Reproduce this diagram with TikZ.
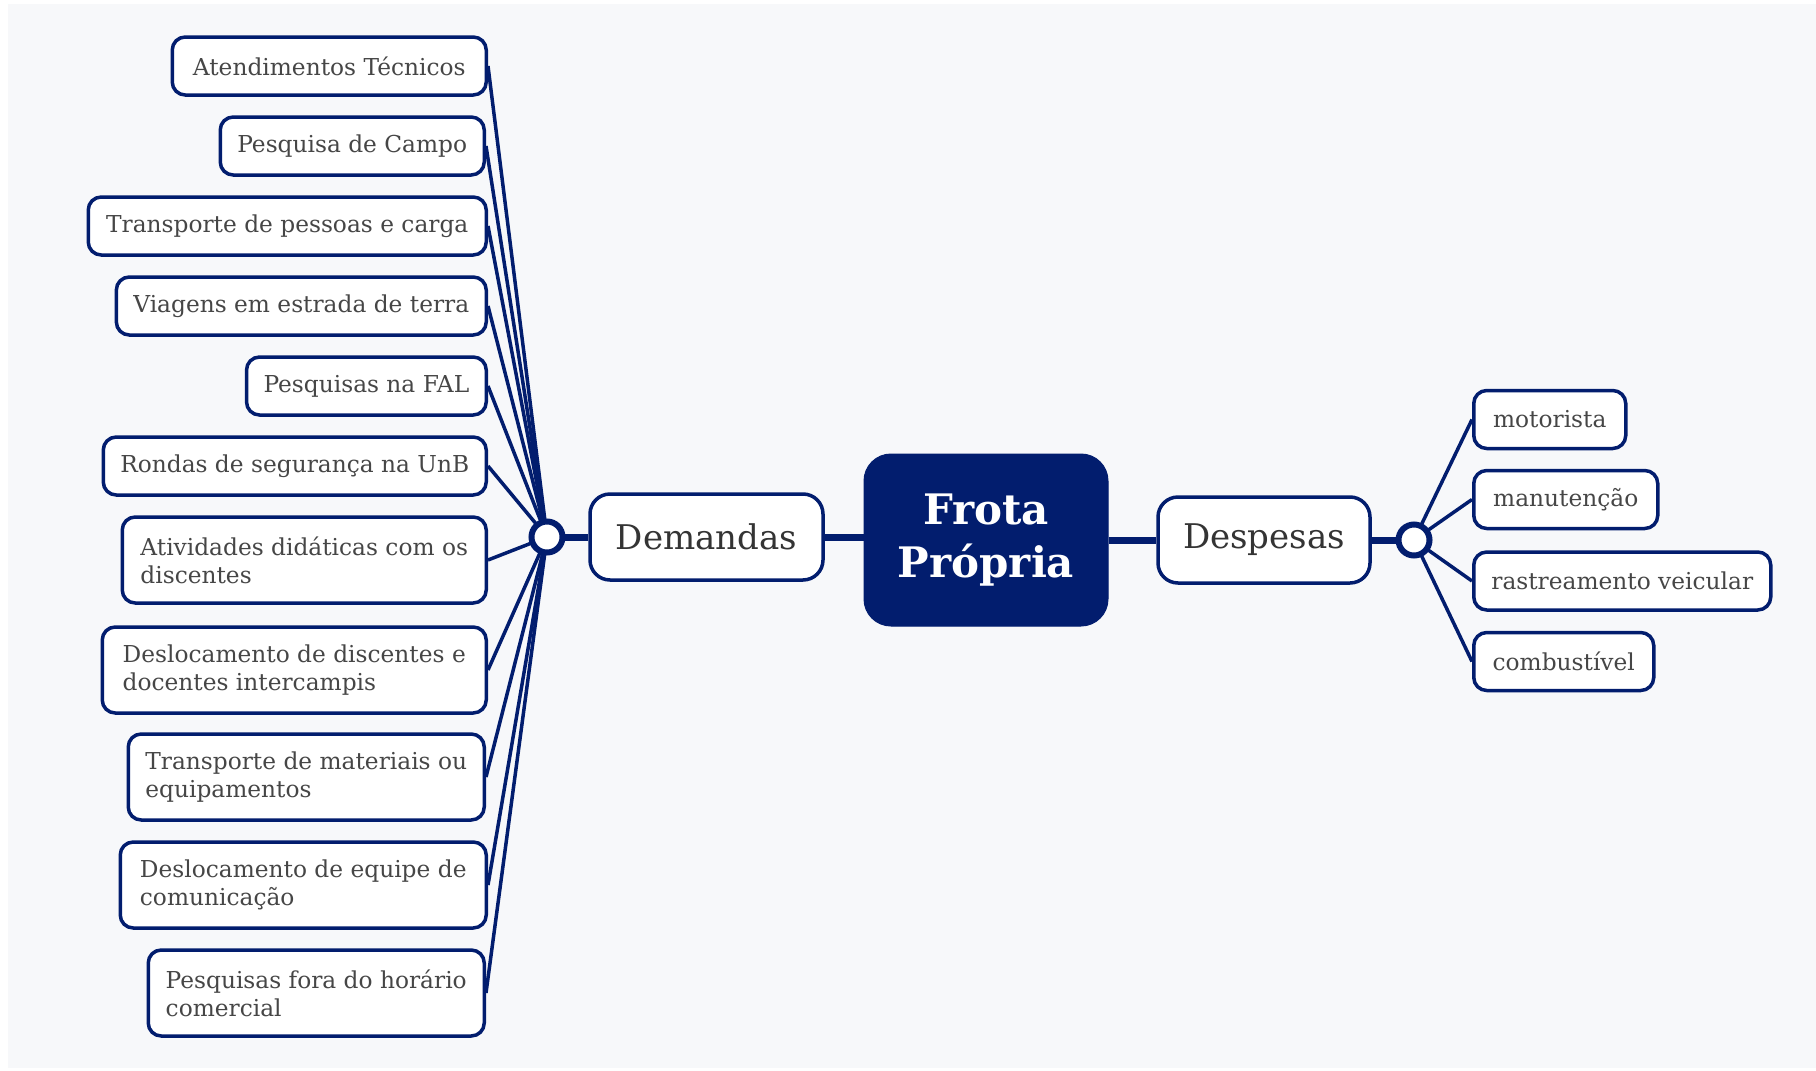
\documentclass[tikz,border=0pt]{standalone}
\usepackage{fontspec}
\setmainfont{DejaVu Serif}
\usetikzlibrary{shapes.geometric}
\definecolor{navy}{RGB}{2,29,110}
\definecolor{bggray}{RGB}{247,248,250}
\definecolor{leafgray}{RGB}{70,70,70}
\definecolor{maingray}{RGB}{52,52,52}
\pgfdeclarelayer{bg}
\pgfdeclarelayer{edges}
\pgfsetlayers{bg,edges,main}
\tikzset{
  leafbox/.style={draw=navy, line width=1.75pt, rounded corners=6.5pt, fill=white,
    text=leafgray, font=\fontsize{11.65}{14}\selectfont, inner xsep=8.5pt, inner ysep=0pt,
    align=left, minimum height=29pt},
  dblbox/.style={minimum height=43pt},
  branchbox/.style={draw=navy, line width=1.75pt, rounded corners=10pt, fill=white,
    text=maingray, font=\fontsize{17}{20}\selectfont, inner sep=0pt, minimum height=43pt},
  centerbox/.style={fill=navy, draw=navy, line width=0.5pt, rounded corners=13.5pt, text=white,
    font=\bfseries\fontsize{21}{26.5}\selectfont, align=center, inner sep=0pt,
    minimum width=122pt, minimum height=86pt},
  hub/.style={circle, draw=navy, line width=3pt, fill=white, inner sep=0pt,
    minimum size=15.5pt},
  thicklink/.style={draw=navy, line width=3.5pt},
  thinlink/.style={draw=navy, line width=1.75pt}
}
\begin{document}
\begin{tikzpicture}[x=0.5pt,y=-0.5pt]
\useasboundingbox (0,0) rectangle (1816,1071);
\begin{pgfonlayer}{bg}
\fill[white] (0,0) rectangle (1816,1071);
\fill[bggray] (8,3.5) rectangle (1816,1068);
\end{pgfonlayer}

\node[centerbox] (frota) at (986,540) {Frota\\Própria};
\node[branchbox, minimum width=116.5pt] (dem) at (706.5,537) {Demandas};
\node[branchbox, minimum width=106pt] (desp) at (1264,540) {Despesas};
\node[hub] (lhub) at (547,537) {};
\node[hub] (rhub) at (1414,540) {};

\node[leafbox, anchor=east, minimum width=157pt] (l1) at (488,66) {Atendimentos Técnicos};
\node[leafbox, anchor=east, minimum width=132pt] (l2) at (486,146) {Pesquisa de Campo};
\node[leafbox, anchor=east, minimum width=199pt] (l3) at (488,226) {Transporte de pessoas e carga};
\node[leafbox, anchor=east, minimum width=184pt] (l4) at (488,306) {Viagens em estrada de terra};
\node[leafbox, anchor=east, minimum width=119pt] (l5) at (488,386) {Pesquisas na FAL};
\node[leafbox, anchor=east, minimum width=190pt] (l6) at (488,466) {Rondas de segurança na UnB};
\node[leafbox, dblbox, anchor=east, minimum width=182pt] (l7) at (488,560) {Atividades didáticas com os\\discentes};
\node[leafbox, dblbox, anchor=east, minimum width=192pt] (l8) at (488,670) {Deslocamento de discentes e\\docentes intercampis};
\node[leafbox, dblbox, anchor=east, minimum width=178pt] (l9) at (486,777) {Transporte de materiais ou\\equipamentos};
\node[leafbox, dblbox, anchor=east, minimum width=183pt] (l10) at (488,885) {Deslocamento de equipe de\\comunicação};
\node[leafbox, dblbox, anchor=east, minimum width=168pt] (l11) at (486,993) {Pesquisas fora do horário\\comercial};

\node[leafbox, anchor=west, minimum width=76pt] (r1) at (1472,419.5) {motorista};
\node[leafbox, anchor=west, minimum width=92pt] (r2) at (1472,499.5) {manutenção};
\node[leafbox, anchor=west, minimum width=148.5pt] (r3) at (1472,581) {rastreamento veicular};
\node[leafbox, anchor=west, minimum width=90pt] (r4) at (1472,661.5) {combustível};

\begin{pgfonlayer}{edges}
\draw[thicklink] (dem.east) -- (dem.east -| frota.west);
\draw[thicklink] (dem.west) -- (lhub.center);
\draw[thicklink] (frota.east) -- (desp.west);
\draw[thicklink] (desp.east) -- (rhub.center);
\foreach \n in {l1,l2,l3,l4,l5,l6,l7,l8,l9,l10,l11}
  \draw[thinlink] (lhub.center) -- (\n.east);
\foreach \n in {r1,r2,r3,r4}
  \draw[thinlink] (rhub.center) -- (\n.west);
\end{pgfonlayer}
\end{tikzpicture}
\end{document}
